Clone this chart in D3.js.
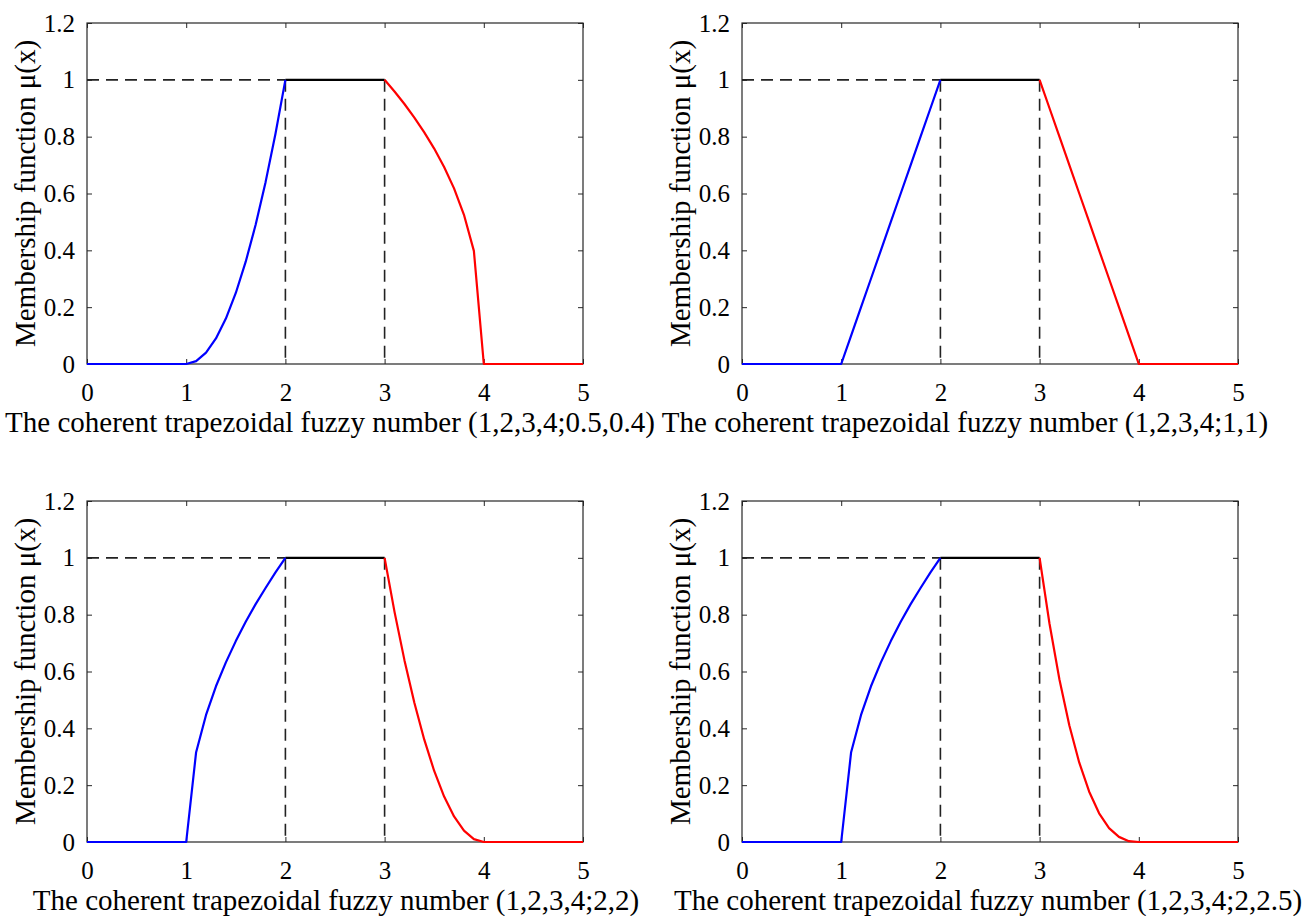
<!DOCTYPE html>
<html>
<head>
<meta charset="utf-8">
<script src="https://cdn.jsdelivr.net/npm/d3@7"></script>
<style>
  html, body { margin: 0; padding: 0; background: #ffffff; }
  svg { display: block; }
  text { font-family: "Liberation Serif", "Times New Roman", Times, serif; fill: #000; }
</style>
</head>
<body>
<script>
// ---------- data ----------
const xTicks = [0, 1, 2, 3, 4, 5];
const yTicks = [0, 0.2, 0.4, 0.6, 0.8, 1, 1.2];
const yTickLabels = ["0", "0.2", "0.4", "0.6", "0.8", "1", "1.2"];

const titles = [
  "The coherent trapezoidal fuzzy number (1,2,3,4;0.5,0.4)",
  "The coherent trapezoidal fuzzy number (1,2,3,4;1,1)",
  "The coherent trapezoidal fuzzy number (1,2,3,4;2,2)",
  "The coherent trapezoidal fuzzy number (1,2,3,4;2,2.5)"
];
const yLabel = "Membership function \u03bc(x)";

// x positions of the left (blue) branch and right (red) branch
const leftX  = [0, 1.0, 1.1, 1.2, 1.3, 1.4, 1.5, 1.6, 1.7, 1.8, 1.9, 2.0];
const rightX = [3.0, 3.1, 3.2, 3.3, 3.4, 3.5, 3.6, 3.7, 3.8, 3.9, 4.0, 5];
const topX   = [2, 3];
const topY   = [1, 1];

// membership values
const leftA  = [0, 0, 0.01, 0.04, 0.09, 0.16, 0.25, 0.36, 0.49, 0.64, 0.81, 1];
const rightA = [1, 0.959, 0.915, 0.867, 0.815, 0.758, 0.693, 0.618, 0.525, 0.398, 0, 0];

const leftB  = [0, 0, 0.1, 0.2, 0.3, 0.4, 0.5, 0.6, 0.7, 0.8, 0.9, 1];
const rightB = [1, 0.9, 0.8, 0.7, 0.6, 0.5, 0.4, 0.3, 0.2, 0.1, 0, 0];

const leftC  = [0, 0, 0.316, 0.447, 0.548, 0.632, 0.707, 0.775, 0.837, 0.894, 0.949, 1];
const rightC = [1, 0.81, 0.64, 0.49, 0.36, 0.25, 0.16, 0.09, 0.04, 0.01, 0, 0];

const leftD  = [0, 0, 0.316, 0.447, 0.548, 0.632, 0.707, 0.775, 0.837, 0.894, 0.949, 1];
const rightD = [1, 0.768, 0.572, 0.410, 0.279, 0.177, 0.101, 0.049, 0.018, 0.003, 0, 0];

const leftSeries  = [leftA, leftB, leftC, leftD];
const rightSeries = [rightA, rightB, rightC, rightD];

// ---------- layout ----------
const W = 1309, H = 916;
const panelLeft = [87, 742, 87, 742];
const panelTop  = [23, 23, 501, 501];
const panelW = 496, panelH = 341;
const titleCx = [330, 965, 336, 988];

const svg = d3.select("body").append("svg").attr("width", W).attr("height", H);

titles.forEach((title, i) => {
  const L = panelLeft[i], T = panelTop[i];
  const x = d3.scaleLinear().domain([0, 5]).range([L, L + panelW]);
  const y = d3.scaleLinear().domain([0, 1.2]).range([T + panelH, T]);
  const g = svg.append("g");

  // axes with inward ticks
  const ax = (axis, tx, ty, labels) => {
    const a = g.append("g").attr("transform", `translate(${tx},${ty})`).call(axis);
    a.select(".domain").remove();
    a.selectAll(".tick line").attr("stroke", "#262626").attr("stroke-width", 1);
    a.selectAll("text").style("font-size", "25px").attr("fill", "#000");
    if (!labels) a.selectAll("text").remove();
    return a;
  };
  ax(d3.axisBottom(x).tickValues(xTicks).tickSize(-5).tickPadding(19).tickFormat(d3.format("d")), 0, T + panelH, true);
  ax(d3.axisTop(x).tickValues(xTicks).tickSize(-5), 0, T, false);
  ax(d3.axisLeft(y).tickValues(yTicks).tickSize(-5).tickPadding(12)
      .tickFormat((d, k) => yTickLabels[k]), L, 0, true);
  ax(d3.axisRight(y).tickValues(yTicks).tickSize(-5), L + panelW, 0, false);

  // frame
  g.append("rect").attr("x", L).attr("y", T).attr("width", panelW).attr("height", panelH)
    .attr("fill", "none").attr("stroke", "#262626").attr("stroke-width", 1.2);

  // dashed guides
  const dash = "12,7";
  g.append("line").attr("x1", x(0)).attr("x2", x(2)).attr("y1", y(1)).attr("y2", y(1))
    .attr("stroke", "#222").attr("stroke-width", 1.6).attr("stroke-dasharray", dash);
  [2, 3].forEach(v => {
    g.append("line").attr("x1", x(v)).attr("x2", x(v)).attr("y1", y(1)).attr("y2", y(0))
      .attr("stroke", "#222").attr("stroke-width", 1.6).attr("stroke-dasharray", dash);
  });

  const line = d3.line().x(d => x(d[0])).y(d => y(d[1]));
  g.append("path").datum(d3.zip(topX, topY)).attr("d", line)
    .attr("fill", "none").attr("stroke", "#000").attr("stroke-width", 2.2);
  g.append("path").datum(d3.zip(leftX, leftSeries[i])).attr("d", line)
    .attr("fill", "none").attr("stroke", "#0000ff").attr("stroke-width", 2.2)
    .attr("stroke-linejoin", "round");
  g.append("path").datum(d3.zip(rightX, rightSeries[i])).attr("d", line)
    .attr("fill", "none").attr("stroke", "#ff0000").attr("stroke-width", 2.2)
    .attr("stroke-linejoin", "round");

  // y label
  g.append("text")
    .attr("transform", `translate(${L - 62},${T + panelH / 2}) rotate(-90)`)
    .attr("text-anchor", "middle").attr("dy", "0.35em")
    .style("font-size", "29px").text(yLabel);

  // x title
  g.append("text").attr("x", titleCx[i]).attr("y", T + panelH + 68)
    .attr("text-anchor", "middle").style("font-size", "29px").text(title);
});
</script>
</body>
</html>
